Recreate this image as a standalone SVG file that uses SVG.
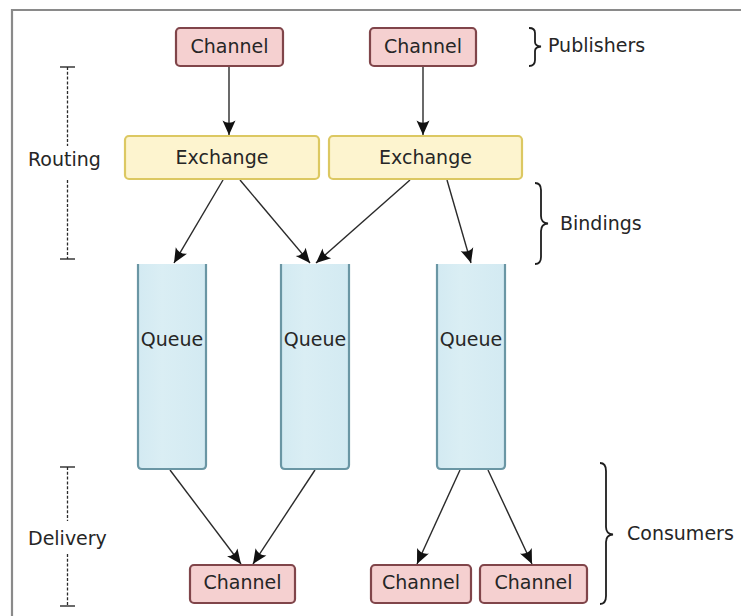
<svg xmlns="http://www.w3.org/2000/svg" width="741" height="616" viewBox="0 0 741 616">
  <style>
    text { font-family: "DejaVu Sans", "Liberation Sans", sans-serif; font-size: 19px; fill: #262626; }
    .lbl { text-anchor: middle; }
    .channel { fill: #f5d0d0; stroke: #80454a; stroke-width: 2.2; }
    .exchange { fill: #fdf4cf; stroke: #dcc862; stroke-width: 2.2; }
    .queue { fill: url(#qfill); stroke: #6a96a4; stroke-width: 2.2; }
    .edge { stroke: #2a2a2a; stroke-width: 1.4; fill: none; marker-end: url(#arr); }
    .dash { stroke: #2a2a2a; stroke-width: 1.3; stroke-dasharray: 3 1.8; fill: none; }
    .tick { stroke: #2a2a2a; stroke-width: 1.4; }
    .brace { stroke: #1e1e1e; stroke-width: 1.8; fill: none; }
  </style>
  <defs>
    <linearGradient id="qfill" x1="0" y1="0" x2="1" y2="0">
      <stop offset="0" stop-color="#d3eaf2"/>
      <stop offset="0.35" stop-color="#daeef4"/>
      <stop offset="1" stop-color="#d3eaf2"/>
    </linearGradient>
    <marker id="arr" markerUnits="userSpaceOnUse" markerWidth="18" markerHeight="16" viewBox="-16 -8 18 16" refX="0" refY="0" orient="auto">
      <path d="M0,0 L-14.5,-6.5 Q-10,0 -14.5,6.5 Z" fill="#111"/>
    </marker>
  </defs>

  <!-- frame -->
  <path d="M741,10 H12 V616" fill="none" stroke="#8a8a8a" stroke-width="2.2"/>

  <!-- connectors -->
  <g id="connectors">
    <line class="edge" x1="229" y1="66" x2="229" y2="135"/>
    <line class="edge" x1="423" y1="66" x2="423" y2="135"/>
    <line class="edge" x1="223" y1="180" x2="174" y2="263"/>
    <line class="edge" x1="240" y1="180" x2="310" y2="263"/>
    <line class="edge" x1="410" y1="180" x2="316" y2="263"/>
    <line class="edge" x1="447" y1="180" x2="471" y2="263"/>
    <line class="edge" x1="170" y1="470" x2="241" y2="564"/>
    <line class="edge" x1="315" y1="470" x2="253" y2="564"/>
    <line class="edge" x1="460" y1="470" x2="417" y2="564"/>
    <line class="edge" x1="488" y1="470" x2="532" y2="564"/>
  </g>

  <!-- publishers -->
  <g id="pub-channel-1">
    <rect class="channel" x="176" y="28" width="107" height="38" rx="4"/>
    <text class="lbl" x="229.5" y="53">Channel</text>
  </g>
  <g id="pub-channel-2">
    <rect class="channel" x="370" y="28" width="106" height="38" rx="4"/>
    <text class="lbl" x="423" y="53">Channel</text>
  </g>

  <!-- exchanges -->
  <g id="exchange-1">
    <rect class="exchange" x="125" y="136" width="194" height="43" rx="4"/>
    <text class="lbl" x="222" y="164">Exchange</text>
  </g>
  <g id="exchange-2">
    <rect class="exchange" x="329" y="136" width="193" height="43" rx="4"/>
    <text class="lbl" x="425.5" y="164">Exchange</text>
  </g>

  <!-- queues (open at the top) -->
  <g id="queue-1">
    <path class="queue" d="M138,264 V465 Q138,469 142,469 H202 Q206,469 206,465 V264"/>
    <text class="lbl" x="172" y="346">Queue</text>
  </g>
  <g id="queue-2">
    <path class="queue" d="M281,264 V465 Q281,469 285,469 H345 Q349,469 349,465 V264"/>
    <text class="lbl" x="315" y="346">Queue</text>
  </g>
  <g id="queue-3">
    <path class="queue" d="M437,264 V465 Q437,469 441,469 H501 Q505,469 505,465 V264"/>
    <text class="lbl" x="471" y="346">Queue</text>
  </g>

  <!-- consumers -->
  <g id="con-channel-1">
    <rect class="channel" x="190" y="565" width="105" height="38" rx="4"/>
    <text class="lbl" x="242.5" y="589">Channel</text>
  </g>
  <g id="con-channel-2">
    <rect class="channel" x="371" y="565" width="100" height="38" rx="4"/>
    <text class="lbl" x="421" y="589">Channel</text>
  </g>
  <g id="con-channel-3">
    <rect class="channel" x="480" y="565" width="107" height="38" rx="4"/>
    <text class="lbl" x="533.5" y="589">Channel</text>
  </g>

  <!-- stage markers on the left -->
  <g id="routing">
    <line class="tick" x1="60" y1="67" x2="75" y2="67"/>
    <line class="tick" x1="60" y1="259" x2="75" y2="259"/>
    <line class="dash" x1="67.5" y1="67" x2="67.5" y2="146"/>
    <line class="dash" x1="67.5" y1="180" x2="67.5" y2="259"/>
    <text x="28" y="166">Routing</text>
  </g>
  <g id="delivery">
    <line class="tick" x1="60" y1="467" x2="75" y2="467"/>
    <line class="tick" x1="60" y1="606" x2="75" y2="606"/>
    <line class="dash" x1="67.5" y1="467" x2="67.5" y2="521"/>
    <line class="dash" x1="67.5" y1="554" x2="67.5" y2="606"/>
    <text x="28" y="545">Delivery</text>
  </g>

  <!-- braces on the right -->
  <g id="publishers">
    <path class="brace" d="M529,28 Q535,28 535,33 V42 Q535,46 541,46.5 Q535,47 535,51 V60 Q535,66 529,66"/>
    <text x="548" y="52">Publishers</text>
  </g>
  <g id="bindings">
    <path class="brace" d="M535,183 Q541,183 541,190 V216 Q541,223 548,223.5 Q541,224 541,231 V257 Q541,264 535,264"/>
    <text x="560" y="230">Bindings</text>
  </g>
  <g id="consumers">
    <path class="brace" d="M600,463 Q606,463 606,471 V527 Q606,534 613,534.5 Q606,535 606,542 V596 Q606,604 600,604"/>
    <text x="627" y="540">Consumers</text>
  </g>
</svg>
